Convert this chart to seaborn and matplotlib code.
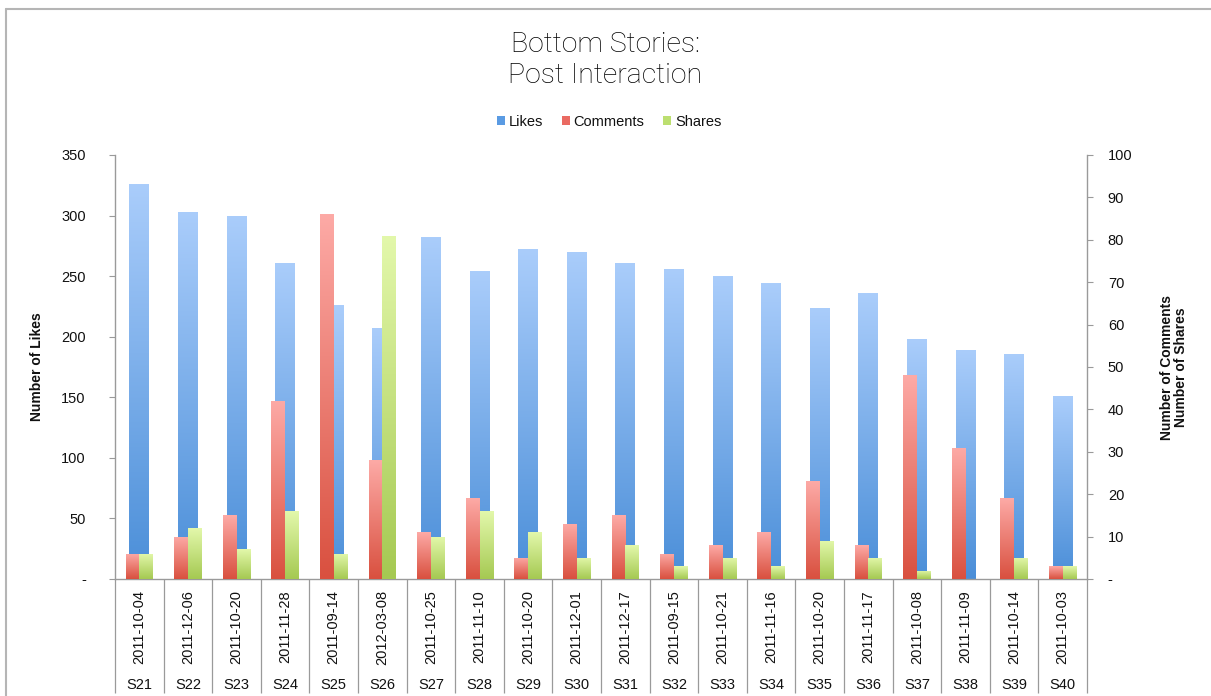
import numpy as np
import pandas as pd
import matplotlib
matplotlib.use("Agg")
import matplotlib.pyplot as plt
from matplotlib.colors import LinearSegmentedColormap
from matplotlib.lines import Line2D
from matplotlib.patches import Patch
from matplotlib.ticker import FuncFormatter
import seaborn as sns

# ---- data -------------------------------------------------------------
stories = ["S21", "S22", "S23", "S24", "S25", "S26", "S27", "S28", "S29", "S30",
           "S31", "S32", "S33", "S34", "S35", "S36", "S37", "S38", "S39", "S40"]
dates = ["2011-10-04", "2011-12-06", "2011-10-20", "2011-11-28", "2011-09-14",
         "2012-03-08", "2011-10-25", "2011-11-10", "2011-10-20", "2011-12-01",
         "2011-12-17", "2011-09-15", "2011-10-21", "2011-11-16", "2011-10-20",
         "2011-11-17", "2011-10-08", "2011-11-09", "2011-10-14", "2011-10-03"]
likes = [326, 303, 300, 261, 226, 207, 282, 254, 272, 270,
         261, 256, 250, 244, 224, 236, 198, 189, 186, 151]
comments = [6, 10, 15, 42, 86, 28, 11, 19, 5, 13,
            15, 6, 8, 11, 23, 8, 48, 31, 19, 3]
shares = [6, 12, 7, 16, 6, 81, 10, 16, 11, 5,
          8, 3, 5, 3, 9, 5, 2, 0, 5, 3]

likes_df = pd.DataFrame({"story": stories, "likes": likes})
secondary_df = pd.DataFrame({
    "story": stories * 2,
    "metric": ["Comments"] * len(stories) + ["Shares"] * len(stories),
    "count": comments + shares,
})

# ---- style ------------------------------------------------------------
sns.set_style("white")
plt.rcParams["font.family"] = ["Liberation Sans", "DejaVu Sans"]
plt.rcParams["text.color"] = "#111111"
plt.rcParams["axes.labelcolor"] = "#111111"
plt.rcParams["xtick.color"] = "#111111"
plt.rcParams["ytick.color"] = "#111111"

BLUE = ("#4a8ed8", "#aacdfb")      # bottom, top
RED = ("#d9503f", "#fdaaa6")
GREEN = ("#a5c952", "#e3f8ab")
AXIS_GREY = "#9a9a9a"

fig = plt.figure(figsize=(12.11, 6.96), dpi=100)
ax = fig.add_axes([115 / 1211, 1 - 579 / 696, 972 / 1211, 424 / 696])

sns.barplot(data=likes_df, x="story", y="likes", order=stories,
            color=BLUE[0], width=0.41, ax=ax, linewidth=0)

ax2 = ax.twinx()
sns.barplot(data=secondary_df, x="story", y="count", hue="metric", order=stories,
            hue_order=["Comments", "Shares"], palette=[RED[0], GREEN[0]],
            width=0.56, ax=ax2, legend=False, linewidth=0)


def gradient_fill(axis, patches, colors):
    """Replace the flat fill of each bar with a vertical gradient."""
    cmap = LinearSegmentedColormap.from_list("bar_grad", list(colors))
    grad = np.linspace(0, 1, 256).reshape(-1, 1)
    for p in patches:
        h = p.get_height()
        if h <= 0:
            continue
        x0, y0, w = p.get_x(), p.get_y(), p.get_width()
        im = axis.imshow(grad, extent=[x0, x0 + w, y0, y0 + h], origin="lower",
                         aspect="auto", cmap=cmap, interpolation="bilinear",
                         zorder=p.get_zorder() + 0.1)
        im.set_clip_path(p)


n = len(stories)
gradient_fill(ax, ax.patches[:n], BLUE)
gradient_fill(ax2, ax2.patches[:n], RED)
gradient_fill(ax2, ax2.patches[n:2 * n], GREEN)

# ---- axes -------------------------------------------------------------
ax.set_xlim(-0.5, n - 0.5)
ax.set_ylim(0, 350)
ax2.set_ylim(0, 100)
ax.set_yticks(np.arange(0, 351, 50))
ax2.set_yticks(np.arange(0, 101, 10))
dash_zero = FuncFormatter(lambda v, _: "-" if v == 0 else f"{int(v)}")
ax.yaxis.set_major_formatter(dash_zero)
ax2.yaxis.set_major_formatter(dash_zero)

for sp in ["top", "right"]:
    ax.spines[sp].set_visible(False)
for sp in ["top", "left", "bottom"]:
    ax2.spines[sp].set_visible(False)
for sp in [ax.spines["left"], ax.spines["bottom"], ax2.spines["right"]]:
    sp.set_color(AXIS_GREY)
    sp.set_linewidth(1.0)

ax.tick_params(axis="y", direction="out", length=4, width=0.8,
               color=AXIS_GREY, pad=17, labelsize=10.5)
ax2.tick_params(axis="y", direction="out", length=4, width=0.8,
                color=AXIS_GREY, pad=11, labelsize=10.5)

ax.set_xticks(range(n))
ax.set_xticklabels(dates, rotation=90, fontsize=10.5)
ax.tick_params(axis="x", length=0, pad=8)
ax.set_xlabel("")
ax2.set_xlabel("")

ax.set_ylabel("Number of Likes", fontsize=10, fontweight="bold")
ax.yaxis.set_label_coords(-0.073, 0.5)
ax2.set_ylabel("Number of Comments\nNumber of Shares", fontsize=10,
               fontweight="bold", rotation=90, linespacing=1.0)
ax2.yaxis.set_label_coords(1.075, 0.5)

# category table below the axis: separators and story ids
xform = ax.get_xaxis_transform()
ax.vlines(np.arange(-0.5, n, 1.0), -0.27, 0, transform=xform,
          colors=AXIS_GREY, linewidth=0.9, clip_on=False)
for i, s in enumerate(stories):
    ax.text(i, -0.25, s, transform=xform, ha="center", va="center",
            fontsize=10.5)

# ---- title and legend -------------------------------------------------
fig.text(0.5, 1 - 60 / 696, "Bottom Stories:\nPost Interaction", ha="center",
         va="center", fontsize=20.5, linespacing=1.22, color="#000000",
         family=["Roboto", "Liberation Sans"], fontweight="light")

handles = [Patch(facecolor="#5a9be3", edgecolor="none"),
           Patch(facecolor="#ea6a62", edgecolor="none"),
           Patch(facecolor="#bcdf70", edgecolor="none")]
fig.legend(handles, ["Likes", "Comments", "Shares"], loc="center",
           bbox_to_anchor=(0.503, 1 - 122 / 696), ncol=3, frameon=False,
           handlelength=0.55, handleheight=0.55, handletextpad=0.25,
           columnspacing=1.3, fontsize=10.5)

# outer frame lines (top and left)
fig.add_artist(Line2D([6 / 1211, 6 / 1211], [0, 1 - 9 / 696],
                      color="#b5b5b5", linewidth=1.5))
fig.add_artist(Line2D([6 / 1211, 1], [1 - 9 / 696, 1 - 9 / 696],
                      color="#b5b5b5", linewidth=1.5))

fig.savefig("out.png", dpi=100, facecolor="white")
